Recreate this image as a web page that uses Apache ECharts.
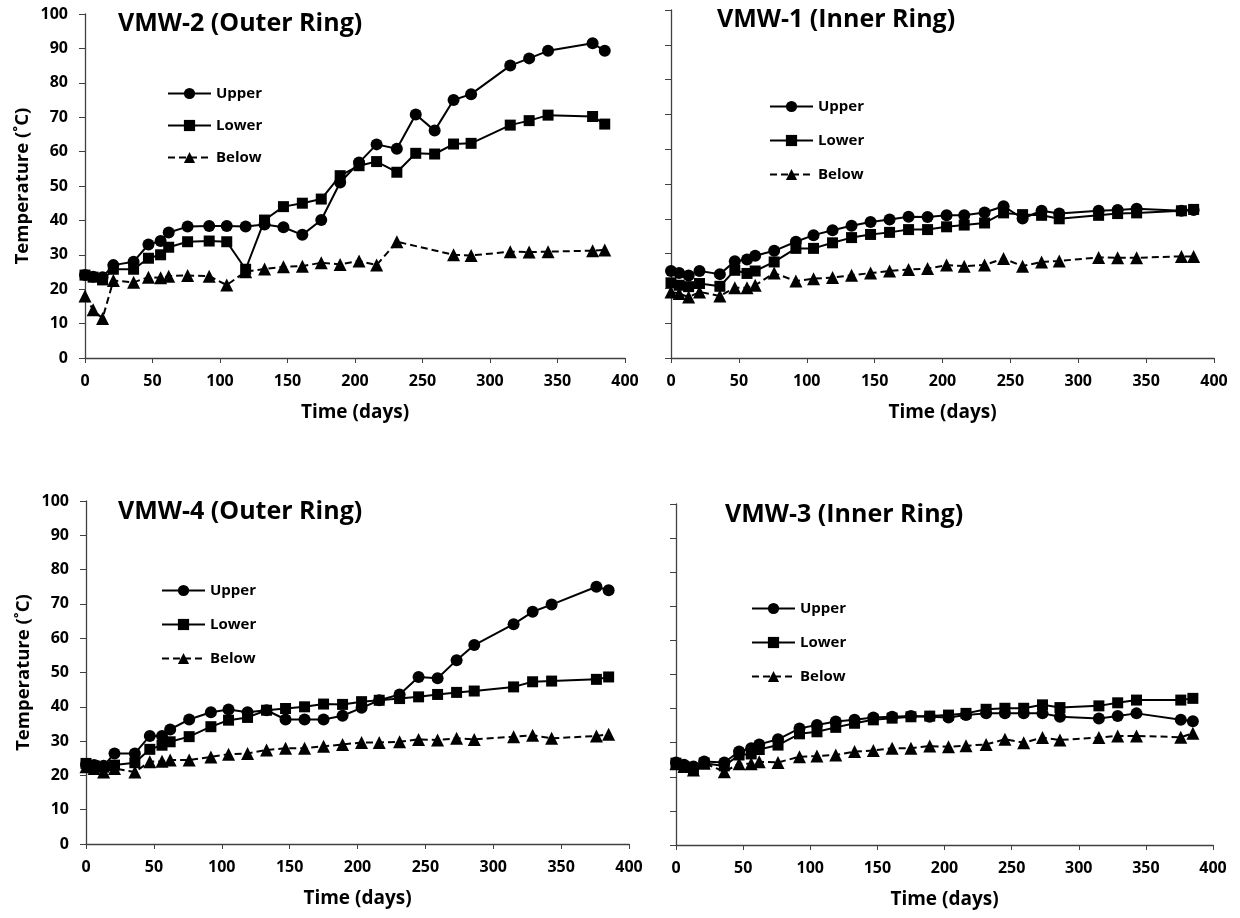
<!DOCTYPE html>
<html><head><meta charset="utf-8">
<script src="https://cdn.jsdelivr.net/npm/echarts@6/dist/echarts.min.js"></script>
<style>html,body{margin:0;padding:0;background:#fff}#c{width:1240px;height:918px}</style>
</head><body><div id="c"></div><script>
const days = [0,6,13,21,36,47,56,62,76,92,105,119,133,147,161,175,189,203,216,231,245,259,273,286,315,329,343,376,385];
const seriesNames = ['Upper','Lower','Below'];
const panelTitles = ['VMW-2 (Outer Ring)','VMW-1 (Inner Ring)','VMW-4 (Outer Ring)','VMW-3 (Inner Ring)'];
const xTicks = [0,50,100,150,200,250,300,350,400];
const yTicks = [0,10,20,30,40,50,60,70,80,90,100];

// VMW-2 (Outer Ring)
const vmw2Upper = [24.1,23.6,23.5,27,28,33,34,36.5,38.2,38.4,38.4,38.2,38.8,38,35.8,40.1,51,56.8,62.1,60.8,70.8,66.1,75,76.7,85,87.1,89.3,91.5,89.3];
const vmw2Lower = [24.1,23.5,22.7,25.8,25.8,29,30,32.2,33.8,34,33.8,25.8,40.1,44,45,46.2,53,55.9,57.1,54,59.5,59.3,62.2,62.4,67.7,69,70.6,70.2,68];
const vmw2Below = [18,14,11.5,22.5,22,23.5,23.3,23.8,24,23.8,21.2,25.1,25.9,26.5,26.7,27.7,27.2,28.2,27,33.8,null,null,30,29.8,30.9,30.8,30.9,31.2,31.4];
// VMW-1 (Inner Ring)
const vmw1Upper = [25,24.4,23.7,25,24.1,27.8,28.3,29.4,30.8,33.4,35.3,36.7,38,39.1,39.8,40.6,40.5,41,41,41.8,43.6,40.1,42.3,41.5,42.3,42.5,42.9,42.3,42.5];
const vmw1Lower = [21.6,20.9,20.5,21.4,20.6,25.2,24.3,25,27.6,31.5,31.5,33.1,34.6,35.5,36.1,36.9,36.9,37.7,38.2,38.8,41.7,41.2,41,40,41,41.5,41.7,42.3,42.7];
const vmw1Below = [19,18.5,17.5,19,17.8,20.2,20.2,20.9,24.4,22.1,22.8,23.1,23.8,24.4,25,25.4,25.7,26.7,26.4,26.7,28.6,26.4,27.6,27.9,28.9,28.8,28.8,29.2,29.2];
// VMW-4 (Outer Ring)
const vmw4Upper = [23.2,23,22.8,26.4,26.4,31.5,31.5,33.4,36.3,38.4,39.2,38.4,39,36.3,36.3,36.3,37.4,39.7,41.9,43.6,48.7,48.3,53.6,58,64.1,67.7,69.8,75,74];
const vmw4Lower = [23.5,22.8,22.4,23,23.7,27.6,28.8,29.8,31.3,34.2,36.1,36.9,39,39.5,40,40.8,40.7,41.5,41.9,42.4,42.9,43.6,44.2,44.6,45.8,47.3,47.5,48,48.7];
const vmw4Below = [22.5,22,21,22,21,24,24.1,24.5,24.5,25.4,26.2,26.4,27.4,27.9,27.9,28.5,29,29.6,29.6,29.8,30.5,30.3,30.8,30.5,31.3,31.7,30.8,31.5,32];
// VMW-3 (Inner Ring)
const vmw3Upper = [24.2,23.5,23,24.5,24.2,27.4,28.4,29.5,31,34.2,35.2,36.2,36.7,37.4,37.6,37.8,37.6,37.4,38.1,38.6,38.6,38.6,38.6,37.6,37.1,37.8,38.6,36.7,36.3];
const vmw3Lower = [24,23,22,24,23.2,26.4,26.7,28,29.3,32.6,33.2,34.5,35.7,36.7,37.2,37.6,37.8,38.1,38.6,39.8,40.1,40.1,41.1,40.3,40.8,41.7,42.5,42.5,43];
const vmw3Below = [23.8,23,22,24,21.5,23.8,23.8,24.4,24.2,25.9,26.1,26.4,27.4,27.7,28.4,28.4,29,28.8,29.1,29.5,31,30,31.5,30.8,31.5,32,32,31.6,32.8];

const panels = [
  [vmw2Upper, vmw2Lower, vmw2Below],
  [vmw1Upper, vmw1Lower, vmw1Below],
  [vmw4Upper, vmw4Lower, vmw4Below],
  [vmw3Upper, vmw3Lower, vmw3Below]
];

const FONT = '"Open Sans"';
const AX = '#404040';
const grids = [
  {left: 85, top: 14, width: 540, height: 344},
  {left: 671, top: 10, width: 543, height: 348},
  {left: 86, top: 501, width: 543, height: 343},
  {left: 676, top: 504, width: 537, height: 341}
];
const titlePos = [[113, 6], [712, 2], [113, 494], [720, 497]];
const legendPos = [[167, 86], [769, 99], [161, 583], [751, 601]];
const legendGaps = [17, 19, 19, 19];
const symbols = ['circle', 'rect', 'triangle'];
const symSizes = [12, 11, 13];

const xAxes = [], yAxes = [], series = [], titles = [], legends = [];
grids.forEach((g, i) => {
  const leftCol = (i % 2 === 0);
  xAxes.push({
    gridIndex: i, type: 'value', min: xTicks[0], max: xTicks[xTicks.length - 1], interval: 50,
    axisLine: {lineStyle: {color: AX, width: 1.3}},
    axisTick: {show: true, inside: false, length: 5, lineStyle: {color: AX}},
    splitLine: {show: false},
    axisLabel: {color: '#000', fontFamily: FONT, fontWeight: 'bold', fontSize: 16, margin: 15},
    name: 'Time (days)', nameLocation: 'middle', nameGap: 45,
    nameTextStyle: {color: '#000', fontFamily: FONT, fontWeight: 'bold', fontSize: 19}
  });
  yAxes.push({
    gridIndex: i, type: 'value', min: yTicks[0], max: yTicks[yTicks.length - 1], interval: 10,
    axisLine: {show: true, lineStyle: {color: AX, width: 1.3}},
    axisTick: {show: true, inside: false, length: 6, lineStyle: {color: AX}},
    splitLine: {show: false},
    axisLabel: {show: leftCol, color: '#000', fontFamily: FONT, fontWeight: 'bold', fontSize: 16, margin: 17},
    name: leftCol ? 'Temperature (˚C)' : '', nameLocation: 'middle', nameGap: 53, nameRotate: 90,
    nameTextStyle: {color: '#000', fontFamily: FONT, fontWeight: 'bold', fontSize: 18.5}
  });
  titles.push({
    text: panelTitles[i], left: titlePos[i][0], top: titlePos[i][1],
    textStyle: {color: '#000', fontFamily: FONT, fontWeight: 'bold', fontSize: 25}
  });
  legends.push({
    data: seriesNames, orient: 'vertical', left: legendPos[i][0], top: legendPos[i][1],
    padding: 0, itemWidth: 43, itemHeight: 14, itemGap: legendGaps[i], selectedMode: false,
    textStyle: {color: '#000', fontFamily: FONT, fontWeight: 'bold', fontSize: 15}
  });
  panels[i].forEach((vals, k) => {
    series.push({
      name: seriesNames[k], type: 'line', xAxisIndex: i, yAxisIndex: i,
      data: days.map((d, j) => [d, vals[j]]),
      connectNulls: true,
      symbol: symbols[k], symbolSize: symSizes[k], showSymbol: true,
      lineStyle: {color: '#000', width: 2, type: k === 2 ? [7, 4] : 'solid'},
      itemStyle: {color: '#000'},
      emphasis: {disabled: true},
      z: 3 - k
    });
  });
});

const chart = echarts.init(document.getElementById('c'), null, {renderer: 'canvas'});
chart.setOption({
  animation: false,
  backgroundColor: '#fff',
  title: titles, legend: legends,
  grid: grids, xAxis: xAxes, yAxis: yAxes, series: series
});
</script></body></html>
